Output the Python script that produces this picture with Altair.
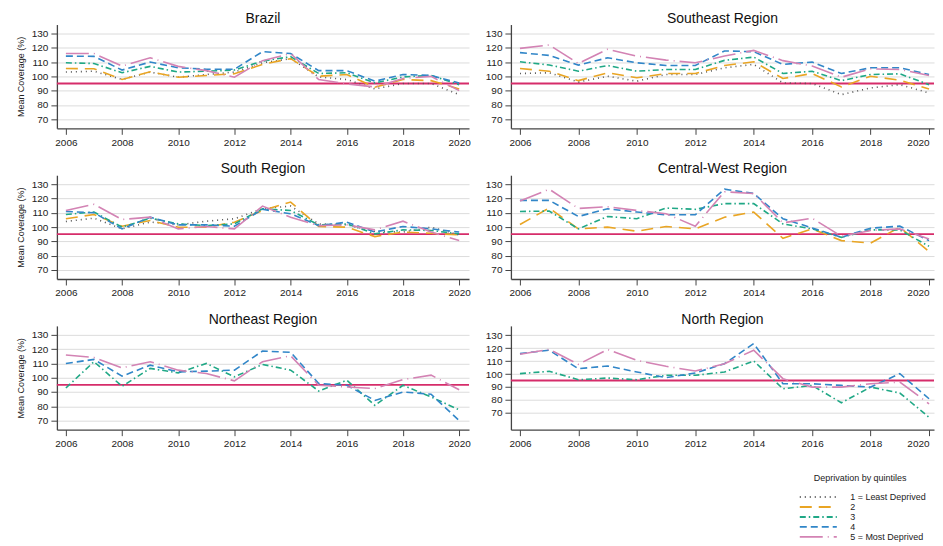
import altair as alt
import pandas as pd

years = list(range(2006, 2021))
quintiles = ["1 = Least Deprived", "2", "3", "4", "5 = Most Deprived"]
line_colors = ["#555555", "#E9A524", "#20A886", "#3186C8", "#D383B4"]
line_dashes = [[1, 4], [12, 7], [6, 3, 1.5, 3], [7, 4], [23, 5, 1, 5]]
y_ticks = [70, 80, 90, 100, 110, 120, 130]
x_ticks = [2006, 2008, 2010, 2012, 2014, 2016, 2018, 2020]
target_line = 95

brazil_q1 = [103, 103.6, 97.8, 103, 99.4, 101.3, 103, 109.5, 112.4, 99.6, 97.8, 91.2, 95, 95, 87.2]
brazil_q2 = [105.5, 105.3, 97.8, 103.2, 99.4, 100.6, 101.8, 108.4, 112.4, 100.1, 101.3, 92.4, 97.8, 97, 91.2]
brazil_q3 = [109.5, 109, 102.5, 107, 103, 103.6, 104.4, 110.7, 113.8, 102, 102.5, 95.4, 99.6, 100.6, 94.2]
brazil_q4 = [114.2, 114, 104.4, 110, 106, 105, 105, 117.3, 116, 104, 104, 96.6, 101.3, 100.6, 95.4]
brazil_q5 = [116, 116, 107.2, 113, 107, 104, 99.4, 111, 116, 97.8, 94.7, 92.6, 98.5, 100, 90]

southeast_q1 = [102, 102.5, 96, 100.1, 96.6, 101.3, 101.3, 106, 108.4, 95.4, 95, 87.2, 91.9, 94.2, 88.4]
southeast_q2 = [105.5, 103.6, 97, 102.5, 99, 102, 102, 107.6, 110.2, 98.5, 102, 92.6, 100.1, 97.3, 91.2]
southeast_q3 = [110.2, 108, 103.6, 107.6, 103.6, 104.8, 104.8, 111.2, 113.5, 102, 103.6, 97, 101.3, 101.8, 94.2]
southeast_q4 = [116.6, 114.7, 107.9, 113, 109.5, 107.6, 107.6, 117.8, 117.3, 108.4, 110, 102, 106, 106, 101.3]
southeast_q5 = [119.6, 122, 109, 119, 114.2, 111.4, 109.5, 114.2, 118.2, 111, 107.2, 99.4, 105.3, 104.8, 100.6]

south_q1 = [103.9, 106.2, 98.7, 103.5, 101.5, 104.1, 105.8, 112.8, 114.7, 102.2, 101.5, 96.9, 96.5, 99.9, 94.5]
south_q2 = [105.8, 108.8, 100.6, 104.6, 99.9, 99.9, 103.4, 111.6, 117.5, 100.4, 99.9, 93.3, 96.5, 95.6, 94.5]
south_q3 = [108.8, 110.5, 99.9, 106.2, 102.2, 101, 102.2, 112.8, 111.6, 101.5, 102.2, 95.2, 98, 97.6, 95.2]
south_q4 = [110.9, 110, 98.7, 106.9, 101.5, 101.5, 100.6, 112.4, 109.3, 101, 103.4, 96.5, 100.4, 98.7, 96.5]
south_q5 = [111.6, 115.9, 105.3, 106.9, 98.7, 100.4, 98.7, 114.7, 106.9, 101, 101.5, 98, 104.1, 96.5, 90.5]

centralwest_q2 = [101.8, 113.3, 98.7, 99.9, 97.1, 100.4, 98.7, 106.9, 110.5, 92.1, 98.7, 90.5, 88.8, 99.9, 82.8]
centralwest_q3 = [110.9, 111.2, 98.7, 107.4, 105.8, 113.3, 112.4, 116.4, 116.4, 102.2, 98.7, 92.8, 98, 98, 86.5]
centralwest_q4 = [118.7, 118.7, 107.4, 112.8, 110.5, 108.6, 108.6, 126.5, 123.5, 105.8, 99.4, 92.8, 99.2, 100.6, 90.5]
centralwest_q5 = [118.2, 126.5, 113, 114.2, 111.6, 109.3, 100.6, 124.7, 123.5, 102.9, 106.2, 93.5, 97.6, 98.7, 91.6]

northeast_q3 = [92.8, 111.2, 94, 106.5, 103.4, 110, 100.6, 109.3, 105.3, 90.7, 98.2, 80.6, 94.7, 86.5, 77.5]
northeast_q4 = [110, 112.8, 101.1, 108.8, 104.1, 104.6, 105.3, 118.7, 117.8, 95.9, 94.7, 84.1, 90, 88.4, 70]
northeast_q5 = [115.9, 114.2, 106.9, 111.2, 105.3, 102.9, 97.8, 111.2, 115.4, 94.7, 93.5, 92.4, 98.7, 101.8, 91.6]

north_q3 = [100.3, 102.1, 95.6, 96.9, 95.6, 99, 99, 101.6, 110.1, 88.6, 91.2, 77.8, 89.9, 85.3, 66.6]
north_q4 = [115.8, 118.4, 104.1, 106.2, 101.6, 97.2, 100.8, 108, 123.5, 92.5, 92.5, 91.2, 89.9, 100.3, 80.9]
north_q5 = [115.3, 119.1, 107.5, 118.9, 110.6, 106, 102.3, 108, 118.4, 96.4, 89.9, 89.9, 92.5, 93.8, 77]

regions = {
    "Brazil": {0: brazil_q1, 1: brazil_q2, 2: brazil_q3, 3: brazil_q4, 4: brazil_q5},
    "Southeast Region": {0: southeast_q1, 1: southeast_q2, 2: southeast_q3, 3: southeast_q4, 4: southeast_q5},
    "South Region": {0: south_q1, 1: south_q2, 2: south_q3, 3: south_q4, 4: south_q5},
    "Central-West Region": {1: centralwest_q2, 2: centralwest_q3, 3: centralwest_q4, 4: centralwest_q5},
    "Northeast Region": {2: northeast_q3, 3: northeast_q4, 4: northeast_q5},
    "North Region": {2: north_q3, 3: north_q4, 4: north_q5},
}

rows = []
for region, series in regions.items():
    for qi, vals in series.items():
        for yr, v in zip(years, vals):
            rows.append({"region": region, "quintile": quintiles[qi], "year": yr, "value": v})
df = pd.DataFrame(rows)

FONT = "Liberation Sans"
legend = alt.Legend(
    title="Deprivation by quintiles", orient="none", legendX=740, legendY=450,
    titleAnchor="middle", titleFontSize=9, titleFontWeight="normal", titleColor="#222",
    labelFontSize=9, labelColor="#222", symbolType="M0,0H10.6", symbolSize=49,
    symbolStrokeWidth=1.8, rowPadding=-2, titlePadding=10, padding=0, labelOffset=46,
)


def panel(region, width, xdomain, ydomain, ytitle, flush):
    yscale = alt.Scale(domain=ydomain, nice=False, zero=False)
    yaxis = alt.Axis(values=y_ticks, title=ytitle if ytitle else None, grid=True,
                     labelOverlap=False, tickCount=7)
    base = alt.Chart(df[df.region == region])
    lines = base.mark_line(strokeWidth=1.6).encode(
        x=alt.X("year:Q", scale=alt.Scale(domain=xdomain, nice=False, zero=False),
                axis=alt.Axis(values=x_ticks, format="d", title=None, grid=False,
                              labelFlush=flush, labelOverlap=False)),
        y=alt.Y("value:Q", scale=yscale, axis=yaxis),
        color=alt.Color("quintile:N", scale=alt.Scale(domain=quintiles, range=line_colors), legend=legend),
        strokeDash=alt.StrokeDash("quintile:N", scale=alt.Scale(domain=quintiles, range=line_dashes),
                                  legend=legend),
        order="year:Q",
    )
    rule = alt.Chart(pd.DataFrame({"value": [target_line]})).mark_rule(
        color="#D62C6A", strokeWidth=1.8).encode(y=alt.Y("value:Q", scale=yscale, axis=yaxis))
    return alt.layer(rule, lines).properties(
        width=width, height=104,
        title=alt.TitleParams(region, fontSize=14, fontWeight="normal", color="#111", offset=-1, font=FONT),
    )


ytitle = "Mean Coverage (%)"
left_x = [2005.68, 2020.35]
right_x = [2005.69, 2020.17]
std_y = [63.6, 136.3]
row1 = alt.hconcat(panel("Brazil", 413, left_x, std_y, ytitle, False),
                   panel("Southeast Region", 424, right_x, std_y, None, 7), spacing=14)
row2 = alt.hconcat(panel("South Region", 413, left_x, std_y, ytitle, False),
                   panel("Central-West Region", 424, right_x, std_y, None, 7), spacing=14)
row3 = alt.hconcat(panel("Northeast Region", 413, left_x, std_y, ytitle, False),
                   panel("North Region", 424, right_x, [57, 137.2], None, 7), spacing=14)

chart = alt.vconcat(row1, row2, row3, spacing=15).properties(
    padding={"left": 8, "top": 3, "right": 0, "bottom": 0}
).configure(font=FONT).configure_view(stroke=None).configure_axis(
    labelFontSize=10, labelColor="#222", titleFontSize=9, titleFontWeight="normal", titleColor="#222",
    domainColor="#444", domainWidth=1.3, tickColor="#444", tickSize=6, gridColor="#DCDCDC",
    labelPadding=3, titlePadding=6,
)

chart.save("out.html", embed_options={"renderer": "svg", "actions": False})
